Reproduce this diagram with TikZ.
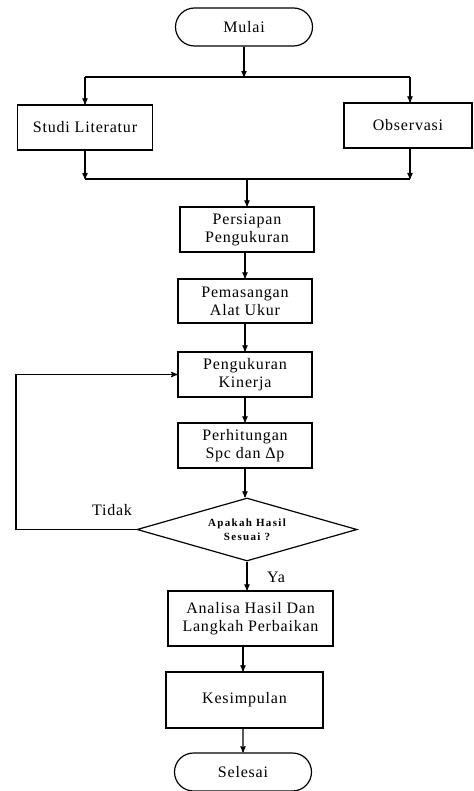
\documentclass[tikz,border=0pt]{standalone}
\usepackage{fontspec}
\setmainfont{Liberation Serif}[LetterSpace=5]
\usetikzlibrary{arrows,calc,positioning,shapes.geometric,shapes.misc}

\begin{document}
\begin{tikzpicture}
[
                  x =  1pt,
	              y = -1pt,
	           ->, >= stealth',
	     line width = 1.2pt,
	  process/.style = { draw=black, rectangle, inner sep=2pt, align=center,
	                     minimum width=134pt, minimum height=45pt,
	                     font=\fontsize{16}{18}\selectfont },
	 terminal/.style = { draw=black, rounded rectangle, inner sep=2pt,
	                     minimum width=141pt, minimum height=38pt,
	                     font=\fontsize{16}{18}\selectfont },
	 decision/.style = { draw=black, diamond, aspect=3.5, inner sep=0pt, align=center,
	                     minimum width=220pt, minimum height=63pt,
	                     font=\fontsize{11}{14}\selectfont\bfseries\addfontfeature{LetterSpace=12} },
	    label/.style = { draw=none, fill=none, font=\fontsize{16}{18}\selectfont }
]

    \useasboundingbox (0,0) rectangle (473,791);

    \node (Mulai)        at (244, 27)    [terminal] {Mulai};
    \node (Studi)        at (85, 127.5)  [process, minimum width=135pt] {Studi Literatur};
    \node (Observasi)    at (408, 125.5) [process, minimum width=128pt] {Observasi};
    \node (Persiapan)    at (247, 229.5) [process] {Persiapan\\Pengukuran};
    \node (Pemasangan)   at (245, 301)   [process, minimum height=44pt] {Pemasangan\\Alat Ukur};
    \node (Pengukuran)   at (245, 374.5) [process] {Pengukuran\\Kinerja};
    \node (Perhitungan)  at (245, 445.5) [process] {Perhitungan\\Spc dan Δp};
    \node (Keputusan)    at (247, 529.5) [decision] {Apakah Hasil\\Sesuai ?};
    \node (Analisa)      at (250.5, 618.5) [process, minimum width=165pt, minimum height=55pt] {Analisa Hasil Dan\\Langkah Perbaikan};
    \node (Kesimpulan)   at (244.5, 700) [process, minimum width=157pt, minimum height=56pt] {Kesimpulan};
    \node (Selesai)      at (243, 772)   [terminal] {Selesai};

    \coordinate (splitL) at (85, 77);
    \coordinate (splitR) at (410, 77);
    \coordinate (joinL)  at (85, 179);
    \coordinate (joinR)  at (410, 179);
    \coordinate (join)   at (247, 179);
    \coordinate (loop)   at (16, 375);

    \draw (Mulai) -> (Mulai |- splitL);
    \draw [-] (splitL) -- (splitR);
    \draw (splitL) -> (Studi);
    \draw (splitR) -> (splitR |- Observasi.north);

    \draw (Studi) -> (joinL);
    \draw (Observasi.south -| joinR) -> (joinR);
    \draw [-] (joinL) -- (joinR);
    \draw (join) -> (Persiapan);

    \draw (Persiapan.south -| Pemasangan) -> (Pemasangan);
    \draw (Pemasangan) -> (Pengukuran);
    \draw (Pengukuran) -> (Perhitungan);
    \draw (Perhitungan) -> (Perhitungan |- Keputusan.north);
    \draw (Keputusan) -> (Keputusan |- Analisa.north);
    \draw (Analisa.south -| 243,0) -> (Kesimpulan.north -| 243,0);
    \draw (Kesimpulan.south -| 243,0) -> (Selesai);

    \draw (Keputusan.west) -- (Keputusan.west -| loop) |- (Pengukuran.west);

    \node (TidakLabel) at (112, 510) [label] {Tidak};
    \node (YaLabel)    at (276, 577) [label] {Ya};

\end{tikzpicture}
\end{document}
